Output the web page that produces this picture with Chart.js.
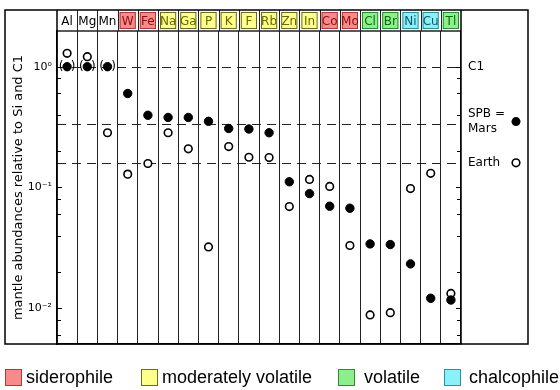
<!DOCTYPE html>
<html>
<head>
<meta charset="utf-8">
<script src="https://cdn.jsdelivr.net/npm/chart.js@4.4.0/dist/chart.umd.min.js"></script>
<style>
  html, body { margin: 0; padding: 0; background: #fff; }
</style>
</head>
<body>
<canvas id="chart" width="560" height="390"></canvas>
<script>
// element columns and their geochemical group
const elements = ['Al','Mg','Mn','W','Fe','Na','Ga','P','K','F','Rb','Zn','In','Co','Mo','Cl','Br','Ni','Cu','Tl'];
const groups = ['', '', '', 'sid','sid','mod','mod','mod','mod','mod','mod','mod','mod','sid','sid','vol','vol','chal','chal','vol'];

// mantle abundances relative to Si and C1
const mars = [1.0, 1.0, 1.0, 0.60, 0.396, 0.38, 0.38, 0.353, 0.308, 0.305, 0.284, 0.1115, 0.089, 0.070, 0.0673, 0.0341, 0.0337, 0.0233, 0.0121, 0.0117];
const earth = [1.29, 1.21, 0.284, 0.129, 0.158, 0.284, 0.209, 0.0322, 0.218, 0.178, 0.177, 0.0695, 0.1166, 0.102, 0.0331, 0.0088, 0.0092, 0.098, 0.131, 0.01326];
const bracketed = [0, 1, 2]; // Mars values shown in parentheses

// reference levels (dashed lines) and their names
const refLevels = [1.0, 0.338, 0.16];
const refNames = ['C1', 'SPB =\nMars', 'Earth'];

const yTicks = [0.006, 0.008, 0.01, 0.02, 0.04, 0.06, 0.08, 0.1, 0.2, 0.4, 0.6, 0.8, 1];
const yLabels = { 1: '10⁰', 0.1: '10⁻¹', 0.01: '10⁻²' };

const groupKeys = ['sid', 'mod', 'vol', 'chal'];
const groupNames = ['siderophile', 'moderately volatile', 'volatile', 'chalcophile'];

// styles
const groupStyle = {
    '':   { fill: '#ffffff', stroke: '#ffffff', text: '#000000' },
    sid:  { fill: '#f78a8a', stroke: '#b03838', text: '#8a1010' },
    mod:  { fill: '#ffff8c', stroke: '#6a6a20', text: '#6a6a00' },
    vol:  { fill: '#8cee8c', stroke: '#2f8a2f', text: '#106a10' },
    chal: { fill: '#8cf0f8', stroke: '#2f8fa0', text: '#0f5a6a' }
};
const legendX = [5, 141, 338, 444];
const legendTextGap = [4, 4, 9, 8];
const FRAME = { left: 5, top: 10, right: 528 };

const deco = {
    id: 'deco',
    beforeDatasetsDraw(chart) {
        const ctx = chart.ctx, ca = chart.chartArea;
        const ys = chart.scales.y;
        const w = (ca.right - ca.left) / elements.length;
        ctx.save();

        // dashed reference lines
        ctx.strokeStyle = '#222';
        ctx.lineWidth = 1;
        ctx.setLineDash([9, 6]);
        refLevels.forEach(v => {
            const y = Math.round(ys.getPixelForValue(v)) + 0.5;
            ctx.beginPath();
            ctx.moveTo(ca.left, y);
            ctx.lineTo(ca.right, y);
            ctx.stroke();
        });
        ctx.setLineDash([]);

        // header cells
        ctx.font = '12px "DejaVu Sans"';
        ctx.textAlign = 'center';
        ctx.textBaseline = 'middle';
        elements.forEach((el, i) => {
            const st = groupStyle[groups[i]];
            const x0 = ca.left + i * w;
            if (groups[i]) {
                ctx.fillStyle = st.fill;
                ctx.fillRect(x0 + 2, FRAME.top + 2.5, w - 4, ca.top - FRAME.top - 4.5);
                ctx.strokeStyle = st.stroke;
                ctx.lineWidth = 1;
                ctx.strokeRect(x0 + 2.5, FRAME.top + 2.5, w - 5, ca.top - FRAME.top - 5);
            }
            ctx.fillStyle = st.text;
            ctx.fillText(el, x0 + w / 2, (FRAME.top + ca.top) / 2 + 1);
        });

        // column lines through header
        ctx.strokeStyle = '#222';
        ctx.lineWidth = 1;
        for (let i = 1; i < elements.length; i++) {
            const x = Math.round(ca.left + i * w) + 0.5;
            ctx.beginPath();
            ctx.moveTo(x, FRAME.top);
            ctx.lineTo(x, ca.top);
            ctx.stroke();
        }
        ctx.lineWidth = 1.5;
        ctx.beginPath();
        ctx.moveTo(ca.left, ca.top);
        ctx.lineTo(ca.right, ca.top);
        ctx.stroke();
        ctx.restore();
    },
    afterDraw(chart) {
        const ctx = chart.ctx, ca = chart.chartArea;
        const ys = chart.scales.y;
        ctx.save();
        ctx.strokeStyle = '#000';

        // outer frame and axes
        ctx.lineWidth = 1.5;
        ctx.strokeRect(FRAME.left, FRAME.top, FRAME.right - FRAME.left, ca.bottom - FRAME.top);
        ctx.beginPath();
        ctx.moveTo(ca.left, FRAME.top);
        ctx.lineTo(ca.left, ca.bottom);
        ctx.moveTo(ca.right, FRAME.top);
        ctx.lineTo(ca.right, ca.bottom);
        ctx.stroke();

        // inward tick marks
        ctx.lineWidth = 1;
        yTicks.forEach(v => {
            const y = Math.round(ys.getPixelForValue(v)) + 0.5;
            const len = yLabels[v] ? 5 : 4;
            ctx.beginPath();
            ctx.moveTo(ca.left, y);
            ctx.lineTo(ca.left + len, y);
            ctx.moveTo(ca.right, y);
            ctx.lineTo(ca.right - len, y);
            ctx.stroke();
        });

        // parentheses round bracketed values
        ctx.fillStyle = '#000';
        ctx.font = '12px "DejaVu Sans"';
        ctx.textAlign = 'center';
        ctx.textBaseline = 'middle';
        const meta = chart.getDatasetMeta(0);
        bracketed.forEach(i => {
            const p = meta.data[i];
            ctx.fillText('(', p.x - 6, p.y);
            ctx.fillText(')', p.x + 6, p.y);
        });

        // labels at the right
        ctx.textAlign = 'left';
        const lx = ca.right + 7;
        const mx = 516;
        refLevels.forEach((v, i) => {
            const y = ys.getPixelForValue(v);
            const lines = refNames[i].split('\n');
            if (lines.length > 1) {
                ctx.fillText(lines[0], lx, y - 10);
                ctx.fillText(lines[1], lx, y + 5);
            } else {
                ctx.fillText(lines[0], lx, y);
            }
        });
        let y = ys.getPixelForValue(refLevels[1]) - 2;
        ctx.beginPath();
        ctx.arc(mx, y, 4.5, 0, Math.PI * 2);
        ctx.fill();
        y = ys.getPixelForValue(refLevels[2]);
        ctx.beginPath();
        ctx.arc(mx, y, 3.8, 0, Math.PI * 2);
        ctx.lineWidth = 1.6;
        ctx.stroke();

        // group legend
        ctx.font = '18px "Liberation Sans", Arial, sans-serif';
        groupKeys.forEach((k, i) => {
            const st = groupStyle[k];
            const x = legendX[i];
            ctx.fillStyle = st.fill;
            ctx.fillRect(x, 369, 17, 17);
            ctx.strokeStyle = st.stroke;
            ctx.lineWidth = 1;
            ctx.strokeRect(x + 0.5, 369.5, 16, 16);
            ctx.fillStyle = '#000';
            ctx.fillText(groupNames[i], x + 17 + legendTextGap[i], 378);
        });
        ctx.restore();
    }
};

new Chart(document.getElementById('chart'), {
    type: 'line',
    data: {
        labels: elements,
        datasets: [
            { label: 'SPB = Mars', data: mars, showLine: false, pointRadius: 4.2,
              pointBackgroundColor: '#000', pointBorderColor: '#000', pointBorderWidth: 1 },
            { label: 'Earth', data: earth, showLine: false, pointRadius: 3.8,
              pointBackgroundColor: '#fff', pointBorderColor: '#000', pointBorderWidth: 1.6 }
        ]
    },
    options: {
        responsive: false,
        animation: false,
        layout: { padding: { left: 5, top: 31, right: 99, bottom: 46 } },
        plugins: { legend: { display: false }, tooltip: { enabled: false } },
        scales: {
            x: {
                type: 'category',
                offset: true,
                grid: { offset: true, color: '#222', lineWidth: 1, drawTicks: false },
                ticks: { display: false },
                border: { display: true, color: '#000', width: 1.5 },
                afterFit: (s) => { s.height = 0; }
            },
            y: {
                type: 'logarithmic',
                min: 0.00506,
                max: 1.975,
                grid: { display: false, drawTicks: false },
                border: { display: true, color: '#000', width: 1.5 },
                afterBuildTicks: (s) => { s.ticks = yTicks.map(v => ({ value: v })); },
                ticks: {
                    autoSkip: false,
                    padding: 5,
                    color: '#000',
                    font: { family: 'DejaVu Sans', size: 11 },
                    callback: (v) => yLabels[v] || ''
                },
                title: {
                    display: true,
                    text: 'mantle abundances relative to Si and C1',
                    color: '#000',
                    font: { family: 'DejaVu Sans', size: 13 },
                    padding: { top: 6, bottom: 0 }
                },
                afterFit: (s) => { s.width = 52; }
            }
        }
    },
    plugins: [deco]
});
</script>
</body>
</html>
